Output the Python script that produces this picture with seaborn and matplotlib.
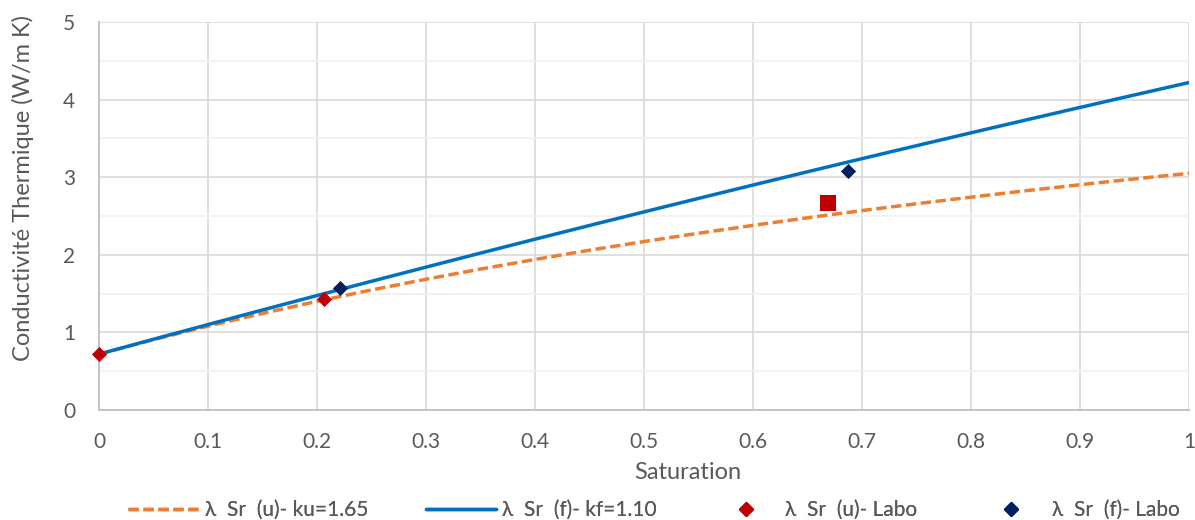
import matplotlib
matplotlib.use("Agg")
import matplotlib.pyplot as plt
from matplotlib.ticker import MultipleLocator, FuncFormatter
from matplotlib.lines import Line2D
import seaborn as sns
import pandas as pd

# Saturation grid for the two model curves
saturation = [0.00, 0.05, 0.10, 0.15, 0.20, 0.25, 0.30, 0.35, 0.40, 0.45, 0.50,
              0.55, 0.60, 0.65, 0.70, 0.75, 0.80, 0.85, 0.90, 0.95, 1.00]
# Unfrozen model, ku = 1.65
lambda_u = [0.720, 0.906, 1.081, 1.245, 1.400, 1.547, 1.685, 1.816, 1.940, 2.059, 2.171,
            2.278, 2.379, 2.477, 2.570, 2.658, 2.743, 2.825, 2.903, 2.978, 3.050]
# Frozen model, kf = 1.10
lambda_f = [0.720, 0.912, 1.101, 1.289, 1.475, 1.659, 1.841, 2.022, 2.201, 2.378, 2.553,
            2.727, 2.899, 3.070, 3.239, 3.406, 3.572, 3.736, 3.899, 4.060, 4.220]

# Laboratory measurements
labo_u_sr = [0.000, 0.206]
labo_u_val = [0.72, 1.43]
labo_f_sr = [0.221, 0.687]
labo_f_val = [1.57, 3.08]
extra_sr = [0.669]
extra_val = [2.67]

labels = ["λ  Sr  (u)- ku=1.65", "λ  Sr  (f)- kf=1.10", "λ  Sr  (u)- Labo", "λ  Sr  (f)- Labo"]

ORANGE = "#ED7D31"
BLUE = "#0070C0"
RED = "#C00000"
NAVY = "#002060"
TXT = "#595959"
DASH = (0, (3.0, 1.3))

sns.set_style("white")
plt.rcParams["font.family"] = ["Lato", "DejaVu Sans"]

W, H = 1195, 520
fig = plt.figure(figsize=(W / 100, H / 100), dpi=100)
ax = fig.add_axes([99 / W, 110 / H, 1090 / W, 388 / H])

curves = pd.DataFrame({"Sr": saturation, "u": lambda_u, "f": lambda_f})
sns.lineplot(data=curves, x="Sr", y="u", ax=ax, color=ORANGE, linewidth=2.5,
             linestyle=DASH, zorder=3)
sns.lineplot(data=curves, x="Sr", y="f", ax=ax, color=BLUE, linewidth=2.5, zorder=4)

sns.scatterplot(x=labo_u_sr, y=labo_u_val, ax=ax, marker="D", s=60, color=RED,
                edgecolor=RED, linewidth=0, zorder=5, clip_on=False)
sns.scatterplot(x=labo_f_sr, y=labo_f_val, ax=ax, marker="D", s=60, color=NAVY,
                edgecolor=NAVY, linewidth=0, zorder=5)
sns.scatterplot(x=extra_sr, y=extra_val, ax=ax, marker="s", s=125, color=RED,
                edgecolor=RED, linewidth=0, zorder=5)

ax.set_xlim(0, 1)
ax.set_ylim(0, 5)
ax.xaxis.set_major_locator(MultipleLocator(0.1))
ax.xaxis.set_minor_locator(MultipleLocator(0.02))
ax.yaxis.set_major_locator(MultipleLocator(1))
ax.yaxis.set_minor_locator(MultipleLocator(0.5))
ax.xaxis.set_major_formatter(FuncFormatter(lambda v, p: f"{round(v, 1):g}"))
ax.yaxis.set_major_formatter(FuncFormatter(lambda v, p: f"{int(round(v))}"))

ax.grid(which="major", color="#D9D9D9", linewidth=1.2)
ax.grid(which="minor", axis="y", color="#F0F0F0", linewidth=1.2)
ax.set_axisbelow(True)

for s in ["top", "right"]:
    ax.spines[s].set_visible(False)
for s in ["left", "bottom"]:
    ax.spines[s].set_color("#BFBFBF")
    ax.spines[s].set_linewidth(1.3)

ax.tick_params(axis="x", which="major", length=0, pad=16, labelsize=15, labelcolor=TXT)
ax.tick_params(axis="x", which="minor", direction="in", length=5, color="#BFBFBF", width=1)
ax.tick_params(axis="y", which="major", length=0, pad=17, labelsize=15, labelcolor=TXT)
ax.tick_params(axis="y", which="minor", length=0)

ax.set_xlabel("Saturation", fontsize=17, color=TXT)
ax.set_ylabel("Conductivité Thermique (W/m K)", fontsize=17, color=TXT)
ax.xaxis.set_label_coords(0.540, -0.134)
ax.yaxis.set_label_coords(-0.060, 0.573)

# Legend entries laid out along the bottom edge
LEG_FS = 15
entries = [
    (Line2D([], [], color=ORANGE, linewidth=2.5, linestyle=DASH), 128, 3.36, 0.34),
    (Line2D([], [], color=BLUE, linewidth=2.5), 426, 3.36, 0.28),
    (Line2D([], [], color=RED, marker="D", markersize=7, linestyle="none"), 736, 1.0, 1.35),
    (Line2D([], [], color=NAVY, marker="D", markersize=7, linestyle="none"), 1001, 1.0, 1.45),
]
for (handle, x0, hl, tp), lab in zip(entries, labels):
    leg = fig.legend([handle], [lab], loc="center left", frameon=False,
                     bbox_to_anchor=(x0 / W, 1 - 510 / H), borderpad=0,
                     borderaxespad=0, handlelength=hl, handletextpad=tp,
                     fontsize=LEG_FS, labelcolor=TXT)
    fig.add_artist(leg)

fig.savefig("out.png", dpi=100)
